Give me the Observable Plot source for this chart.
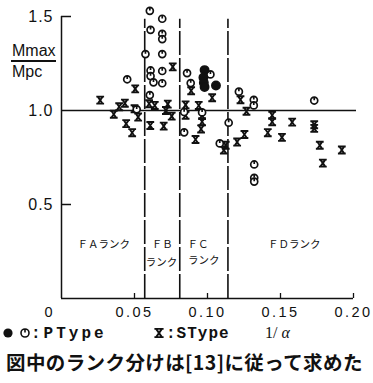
<!DOCTYPE html>
<html><head><meta charset="utf-8">
<script src="https://cdn.jsdelivr.net/npm/d3@7"></script>
<script src="https://cdn.jsdelivr.net/npm/@observablehq/plot@0.6"></script>
<style>
body{margin:0;background:#fff;}
#wrap{position:relative;width:373px;height:383px;overflow:hidden;font-family:"Liberation Sans",Arial,sans-serif;color:#111;}
#wrap svg.plot{position:absolute;left:0;top:0;}
.abs{position:absolute;white-space:nowrap;line-height:1;}
[aria-label="x-axis tick label"] text{letter-spacing:2.5px;}
[aria-label="y-axis tick label"] text{letter-spacing:1px;}
</style></head><body><div id="wrap"></div>
<script>
// ---- data ----
// P type, open symbols
const pTypeX = [0.0605,0.0690,0.0610,0.0690,0.0690,0.0575,0.0690,0.0450,0.0610,0.0610,0.0690,0.0630,0.0690,0.0605,0.0515,
                0.0860,0.0885,0.1020,0.1215,0.1317,0.1317,0.1731,0.0840,0.0963,0.1145,0.0840,0.1084,0.1320,0.1320,0.1320];
const pTypeY = [1.530,1.488,1.429,1.408,1.380,1.300,1.300,1.166,1.213,1.183,1.210,1.150,1.145,1.082,1.006,
                1.199,1.146,1.192,1.100,1.057,1.027,1.053,0.992,0.990,0.935,0.884,0.825,0.713,0.642,0.622];
// P type, filled symbols
const pFilledX = [0.0980,0.0972,0.0975,0.0980,0.1058];
const pFilledY = [1.215,1.175,1.148,1.125,1.133];
// S type
const sTypeX = [0.0265,0.0505,0.0358,0.0395,0.0434,0.0500,0.0525,0.0443,0.0484,0.0600,0.0639,0.0608,0.0700,0.0728,0.0715,
                0.0755,0.0762,0.0850,0.0850,0.0940,0.0963,0.0963,0.0956,0.0918,0.0888,0.1032,0.1226,0.1267,0.1443,0.1443,
                0.1580,0.1413,0.1510,0.1731,0.1731,0.1769,0.1920,0.1790,0.1253,0.1203,0.1125,0.1112];
const sTypeY = [1.055,1.115,0.980,1.020,1.039,1.009,0.965,0.930,0.882,1.036,1.027,0.920,0.917,1.034,1.000,
                0.970,1.232,1.030,0.975,1.027,0.973,0.940,0.902,0.846,1.105,1.068,1.057,0.996,0.975,0.940,
                0.938,0.882,0.857,0.924,0.905,0.815,0.790,0.720,0.872,0.832,0.815,0.790];
// rank dividers (1/alpha)
const rankBounds = [0.057, 0.081, 0.114];
const rankTop = 1.485;
// rank labels
const rankText = ["ＦＡランク","ＦＢ","ランク","ＦＣ","ランク","ＦＤランク"];
const rankX = [0.0290,0.0690,0.0685,0.0935,0.0975,0.1595];
const rankY = [0.287,0.287,0.192,0.287,0.200,0.287];
// axes
const xTicks = [0.05,0.10,0.15,0.20];
const xTickLabels = ["0.05","0.10","0.15","0.20"];
const yTicks = [0.5,1.0,1.5];
const yTickLabels = ["0.5","1.0","1.5"];

// ---- build tables ----
const pOpen = pTypeX.map((x,i)=>({x, y:pTypeY[i]}));
const pFill = pFilledX.map((x,i)=>({x, y:pFilledY[i]}));
const sPts = sTypeX.map((x,i)=>({x, y:sTypeY[i]}));
const ranks = rankText.map((t,i)=>({text:t, x:rankX[i], y:rankY[i]}));

// custom symbols
const clockSym = {draw(ctx,size){const r=Math.sqrt(size/Math.PI);ctx.moveTo(r,0);ctx.arc(0,0,r,0,2*Math.PI);ctx.moveTo(0,-r);ctx.lineTo(0,-r*0.1);}};
const glassSym = {draw(ctx,size){const s=Math.sqrt(size/Math.PI);const h=s*0.9,w=s*0.62;
  ctx.moveTo(-s,-h);ctx.lineTo(s,-h);ctx.moveTo(-w,-h);ctx.lineTo(w,h);ctx.moveTo(w,-h);ctx.lineTo(-w,h);ctx.moveTo(-s,h);ctx.lineTo(s,h);}};

const ink = "#111";
const chart = Plot.plot({
  width: 373, height: 322,
  marginLeft: 61, marginRight: 20, marginTop: 16, marginBottom: 24,
  x: {domain:[0,0.2], label:null},
  y: {domain:[0,1.5], label:null},
  style: {background:"transparent", fontFamily:"'Liberation Sans', Arial, sans-serif", color: ink, overflow:"visible"},
  marks: [
    Plot.ruleY([1], {x1:0, x2:0.2, insetRight:-3, stroke:ink, strokeWidth:1.3}),
    Plot.ruleX(rankBounds, {x:d=>d, y1:0, y2:rankTop, stroke:ink, strokeWidth:1.6, strokeDasharray:"24,3"}),
    Plot.ruleX([0], {y1:0, y2:1.5, stroke:ink, strokeWidth:1.5}),
    Plot.ruleY([0], {x1:0, x2:0.2, stroke:ink, strokeWidth:1.5}),
    Plot.ruleX(xTicks, {x:d=>d, y1:0, y2:0, insetTop:-5, stroke:ink, strokeWidth:1.3}),
    Plot.ruleY([0.5,1.5], {y:d=>d, x1:0, x2:0, insetRight:-10, stroke:ink, strokeWidth:1.5}),
    Plot.axisX(xTicks, {tickSize:0, tickPadding:8, fontSize:14.5, tickFormat:(d,i)=>xTickLabels[i], label:null}),
    Plot.axisY(yTicks, {tickSize:0, tickPadding:8, fontSize:16, tickFormat:(d,i)=>yTickLabels[i], label:null}),
    Plot.text(["0"], {x:0, y:0, text:d=>d, dx:-13, dy:14, fontSize:14.5}),
    Plot.text(ranks, {x:"x", y:"y", text:"text", fontFamily:"'Noto Sans CJK JP'", fontSize:10.5, fill:ink}),
    Plot.dot(sPts, {x:"x", y:"y", symbol:glassSym, r:3.9, stroke:ink, strokeWidth:1.9, fill:"none"}),
    Plot.dot(pOpen, {x:"x", y:"y", symbol:clockSym, r:3.5, stroke:ink, strokeWidth:1.7, fill:"white"}),
    Plot.dot(pFill, {x:"x", y:"y", r:4.2, fill:ink, stroke:ink})
  ]
});
chart.classList.add("plot");
const wrap = document.getElementById("wrap");
wrap.appendChild(chart);

function add(html, css){const d=document.createElement("div");d.className="abs";d.innerHTML=html;Object.assign(d.style,css);wrap.appendChild(d);return d;}
// y-axis fraction label
add("Mmax",{left:"12px",top:"43px",fontSize:"16px"});
add("",{left:"11px",top:"60px",width:"45px",height:"1.5px",background:ink});
add("Mpc",{left:"12px",top:"64px",fontSize:"16px"});

// legend symbols
const leg = d3.select(wrap).append("svg").attr("width",373).attr("height",20)
  .style("position","absolute").style("left","0px").style("top","323px");
leg.append("circle").attr("cx",8).attr("cy",10).attr("r",4.6).attr("fill",ink);
leg.append("path").attr("d",d3.symbol(clockSym,Math.PI*4*4)()).attr("transform","translate(25,10)")
  .attr("fill","none").attr("stroke",ink).attr("stroke-width",1.6);
leg.append("path").attr("d",d3.symbol(glassSym,Math.PI*4.6*4.6)()).attr("transform","translate(159,10)")
  .attr("fill","none").attr("stroke",ink).attr("stroke-width",1.9);
add(":PType",{left:"31px",top:"326px",fontSize:"16px",fontFamily:"'Liberation Mono',monospace",fontWeight:"bold",letterSpacing:"3px"});
add(":SType",{left:"166px",top:"326px",fontSize:"16px",fontFamily:"'Liberation Mono',monospace",fontWeight:"bold",letterSpacing:"1px"});
add("1/ <i>α</i>",{left:"265px",top:"325px",fontSize:"16px",fontFamily:"'Liberation Serif',serif"});
// caption
add("図中のランク分けは[13]に従って求めた",{left:"6px",top:"352px",fontSize:"19.5px",fontFamily:"'Noto Sans CJK JP'",fontWeight:"bold",letterSpacing:"0.4px"});
</script></body></html>
